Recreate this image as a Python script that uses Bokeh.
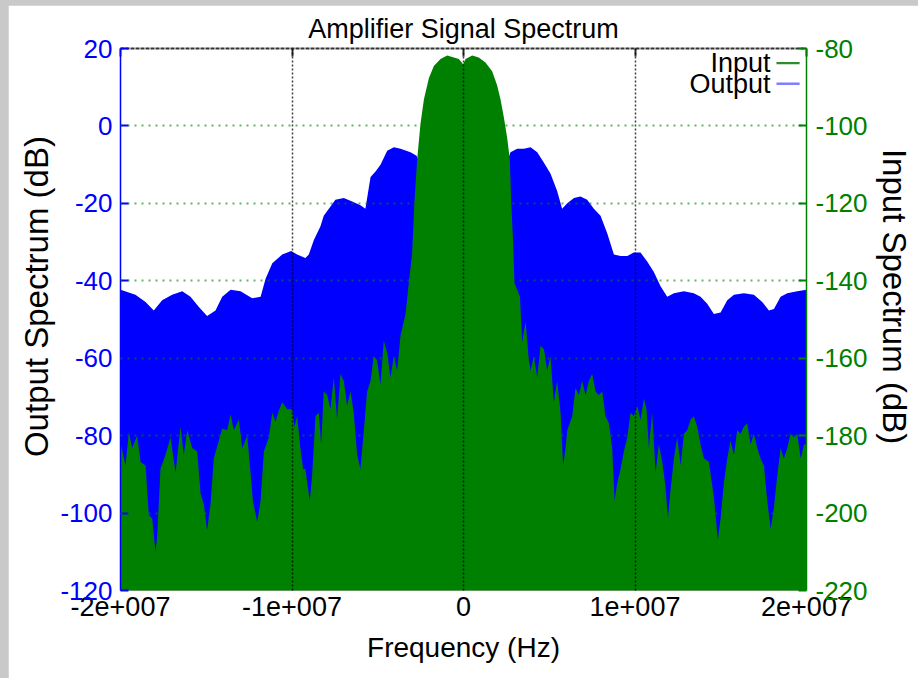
from bokeh.plotting import figure
from bokeh.models import Range1d, LinearAxis, FixedTicker, Label, BoxAnnotation
from bokeh.layouts import column
from bokeh.embed import file_html
from bokeh.resources import INLINE

TITLE = "Amplifier Signal Spectrum"
X_LABEL = "Frequency (Hz)"
Y_LEFT_LABEL = "Output Spectrum (dB)"
Y_RIGHT_LABEL = "Input Spectrum (dB)"
SERIES_NAMES = ["Input", "Output"]

X_TICKS = [-20000000, -10000000, 0, 10000000, 20000000]
X_TICK_LABELS = ["-2e+007", "-1e+007", "0", "1e+007", "2e+007"]
LEFT_TICKS = [20, 0, -20, -40, -60, -80, -100, -120]
LEFT_TICK_LABELS = ["20", "0", "-20", "-40", "-60", "-80", "-100", "-120"]
RIGHT_TICKS = [-80, -100, -120, -140, -160, -180, -200, -220]
RIGHT_TICK_LABELS = ["-80", "-100", "-120", "-140", "-160", "-180", "-200", "-220"]

# Output spectrum (blue, left axis) upper envelope: frequency (Hz), level (dB)
output_freq = [
    -20.00e6, -19.13e6, -18.54e6, -18.06e6, -17.57e6, -16.99e6, -16.40e6, -15.92e6,
    -15.43e6, -14.95e6, -14.46e6, -14.07e6, -13.58e6, -13.00e6, -12.32e6, -11.83e6,
    -11.54e6, -11.15e6, -10.57e6, -10.05e6, -9.70e6, -9.22e6, -9.02e6, -8.73e6,
    -8.34e6, -8.15e6, -7.85e6, -7.47e6, -6.98e6, -6.49e6, -6.01e6, -5.72e6,
    -5.42e6, -5.13e6, -4.84e6, -4.45e6, -4.06e6, -3.67e6, -3.09e6, -2.74e6,
    -2.50e6, -2.00e6, 0.0, 2.00e6, 2.50e6,
    2.74e6, 3.13e6, 3.52e6, 3.91e6, 4.30e6, 4.69e6, 5.07e6, 5.46e6,
    5.75e6, 6.05e6, 6.44e6, 6.82e6, 7.21e6, 7.60e6, 7.99e6, 8.38e6,
    8.77e6, 9.16e6, 9.55e6, 9.93e6, 10.32e6, 10.71e6, 11.10e6, 11.49e6,
    11.88e6, 12.27e6, 12.85e6, 13.43e6, 13.82e6, 14.21e6, 14.60e6, 14.99e6,
    15.38e6, 15.77e6, 16.35e6, 16.93e6, 17.42e6, 17.81e6, 18.10e6, 18.49e6,
    18.88e6, 19.46e6, 20.00e6,
]
output_db = [
    -42.3, -43.6, -45.5, -47.7, -45.0, -43.6, -42.7, -44.1,
    -46.8, -49.1, -47.7, -44.1, -42.3, -42.7, -44.5, -44.1,
    -39.5, -35.5, -33.2, -32.3, -33.2, -34.1, -33.2, -29.5,
    -25.9, -23.2, -21.4, -19.1, -18.6, -19.5, -20.5, -21.4,
    -13.2, -11.8, -10.0, -6.4, -5.5, -5.9, -6.8, -7.7,
    -10.0, 0.0, 10.0, 0.0, -10.0,
    -6.8, -5.9, -5.9, -5.5, -6.8, -9.5, -12.3, -16.8,
    -21.4, -20.0, -18.6, -18.2, -19.1, -21.4, -23.2, -27.7,
    -33.2, -33.6, -33.6, -32.7, -32.7, -35.0, -37.7, -41.4,
    -44.1, -43.2, -42.7, -43.2, -44.1, -45.9, -48.6, -48.2,
    -45.0, -43.6, -43.2, -43.6, -45.5, -47.7, -47.3, -44.1,
    -43.2, -42.7, -42.3,
]

# Input spectrum (green, right axis) upper envelope: frequency (Hz), level (dB)
input_freq = [
    -20.00e6, -19.71e6, -19.51e6, -19.32e6, -19.03e6, -18.83e6, -18.54e6, -18.35e6,
    -18.15e6, -17.96e6, -17.86e6, -17.67e6, -17.38e6, -17.08e6, -16.79e6, -16.50e6,
    -16.31e6, -16.11e6, -15.82e6, -15.53e6, -15.33e6, -15.14e6, -14.95e6, -14.75e6,
    -14.56e6, -14.27e6, -14.07e6, -13.78e6, -13.58e6, -13.39e6, -13.10e6, -12.90e6,
    -12.61e6, -12.42e6, -12.28e6, -12.03e6, -11.83e6, -11.64e6, -11.35e6, -11.15e6,
    -10.96e6, -10.77e6, -10.57e6, -10.28e6, -9.99e6, -9.86e6, -9.70e6, -9.51e6,
    -9.35e6, -9.22e6, -9.08e6, -8.96e6, -8.83e6, -8.63e6, -8.44e6, -8.30e6,
    -8.15e6, -7.95e6, -7.76e6, -7.56e6, -7.37e6, -7.17e6, -6.98e6, -6.79e6,
    -6.59e6, -6.40e6, -6.20e6, -6.01e6, -5.81e6, -5.62e6, -5.42e6, -5.23e6,
    -5.04e6, -4.84e6, -4.65e6, -4.45e6, -4.26e6, -4.06e6, -3.87e6, -3.67e6,
    -3.48e6, -3.38e6, -3.19e6, -3.00e6, -2.86e6, -2.70e6, -2.51e6, -2.31e6,
    -2.02e6, -1.73e6, -1.34e6, -0.95e6, -0.56e6, -0.27e6, -0.02e6, 0.12e6,
    0.51e6, 0.89e6, 1.28e6, 1.67e6, 1.96e6, 2.16e6, 2.35e6, 2.55e6,
    2.70e6, 2.78e6, 2.88e6, 2.97e6, 3.13e6, 3.29e6, 3.42e6, 3.62e6,
    3.81e6, 3.91e6, 4.10e6, 4.30e6, 4.49e6, 4.69e6, 4.88e6, 5.07e6,
    5.27e6, 5.46e6, 5.66e6, 5.81e6, 5.95e6, 6.05e6, 6.34e6, 6.53e6,
    6.73e6, 6.92e6, 7.12e6, 7.31e6, 7.50e6, 7.70e6, 7.89e6, 8.09e6,
    8.28e6, 8.48e6, 8.67e6, 8.81e6, 8.96e6, 9.16e6, 9.35e6, 9.55e6,
    9.74e6, 9.93e6, 10.13e6, 10.32e6, 10.52e6, 10.67e6, 10.81e6, 11.00e6,
    11.20e6, 11.39e6, 11.59e6, 11.78e6, 11.92e6, 12.07e6, 12.27e6, 12.46e6,
    12.66e6, 12.85e6, 13.04e6, 13.24e6, 13.43e6, 13.63e6, 13.82e6, 14.02e6,
    14.31e6, 14.60e6, 14.83e6, 14.99e6, 15.18e6, 15.38e6, 15.57e6, 15.77e6,
    15.96e6, 16.15e6, 16.35e6, 16.54e6, 16.74e6, 16.93e6, 17.13e6, 17.32e6,
    17.52e6, 17.71e6, 17.91e6, 18.10e6, 18.29e6, 18.49e6, 18.68e6, 18.88e6,
    19.07e6, 19.27e6, 19.46e6, 19.66e6, 19.85e6, 20.00e6,
]
input_db = [
    -181.8, -187.7, -179.1, -183.2, -180.0, -186.8, -187.7, -200.5,
    -201.4, -210.0, -205.9, -188.6, -185.0, -180.5, -189.5, -177.7,
    -185.0, -178.6, -183.2, -184.1, -195.0, -197.7, -204.5, -197.7,
    -185.9, -181.4, -178.2, -178.6, -174.5, -178.6, -175.9, -183.2,
    -180.0, -189.5, -196.8, -202.3, -196.8, -184.1, -180.5, -174.1,
    -176.4, -173.6, -171.4, -173.2, -173.2, -177.7, -175.0, -183.2,
    -188.6, -188.6, -193.2, -196.8, -190.5, -175.0, -174.1, -182.3,
    -168.6, -169.5, -173.2, -165.0, -175.9, -164.1, -165.9, -172.3,
    -168.6, -174.1, -185.0, -188.6, -178.6, -168.6, -165.9, -159.5,
    -160.5, -166.8, -155.5, -158.6, -165.0, -159.5, -163.2, -154.1,
    -150.5, -148.6, -140.5, -133.2, -119.5, -108.6, -99.5, -93.2,
    -87.7, -84.5, -82.7, -81.8, -82.3, -82.7, -84.1, -82.7,
    -81.8, -82.3, -83.6, -85.9, -89.5, -93.2, -97.7, -103.2,
    -108.6, -119.5, -128.6, -140.5, -142.3, -144.1, -155.9, -150.5,
    -160.5, -163.2, -159.5, -165.0, -156.8, -157.7, -163.2, -159.5,
    -171.4, -165.9, -174.1, -187.7, -183.2, -178.6, -175.0, -167.7,
    -169.5, -165.9, -169.5, -165.9, -164.1, -168.6, -169.5, -168.6,
    -175.0, -176.8, -183.2, -196.8, -192.3, -188.6, -184.1, -180.5,
    -174.1, -175.0, -172.3, -175.9, -170.5, -173.2, -183.2, -174.1,
    -189.5, -182.3, -186.8, -193.2, -201.4, -194.1, -185.9, -180.5,
    -187.7, -179.5, -178.6, -175.9, -175.0, -177.7, -182.3, -185.9,
    -186.8, -195.9, -206.8, -201.4, -192.3, -185.9, -181.4, -185.0,
    -178.6, -179.5, -177.7, -176.8, -182.3, -179.5, -183.2, -185.9,
    -187.7, -196.8, -204.1, -198.6, -190.5, -183.2, -185.9, -183.2,
    -179.5, -180.5, -179.5, -185.9, -182.3, -182.3,
]

BLUE = "#0000ff"
GREEN = "#008000"
FONT = "'Liberation Sans', Arial, sans-serif"
PAD = "\u00a0" * 5  # lifts the rotated axis titles slightly above the frame centre

p = figure(
    width=910, height=673,
    x_range=Range1d(X_TICKS[0], X_TICKS[-1]),
    y_range=Range1d(LEFT_TICKS[-1], LEFT_TICKS[0]),
    output_backend="svg", toolbar_location=None,
    min_border_left=112, min_border_right=112, min_border_top=43, min_border_bottom=88,
    background_fill_color="white", border_fill_color="white",
)
p.margin = (5, 0, 0, 8)
p.outline_line_color = None
p.extra_y_ranges = {"right": Range1d(RIGHT_TICKS[-1], RIGHT_TICKS[0])}

# fills
p.varea(x=output_freq, y1=LEFT_TICKS[-1], y2=output_db, fill_color=BLUE)
p.varea(x=input_freq, y1=RIGHT_TICKS[-1], y2=input_db, fill_color=GREEN, y_range_name="right")

# title
p.title.text = TITLE
p.title.align = "center"
p.title.vertical_align = "bottom"
p.title.text_font = FONT
p.title.text_font_size = "27px"
p.title.text_font_style = "normal"
p.title.text_color = "black"
p.title.standoff = 10

# bottom axis
xa = p.xaxis[0]
xa.ticker = FixedTicker(ticks=X_TICKS)
xa.major_label_overrides = dict(zip(X_TICKS, X_TICK_LABELS))
xa.major_label_text_font = FONT
xa.major_label_text_font_size = "27px"
xa.major_label_text_color = "black"
xa.major_label_standoff = 6
xa.major_tick_in = 0
xa.major_tick_out = 0
xa.minor_tick_line_color = None
xa.axis_line_color = "#5c9a5c"
xa.axis_label = X_LABEL
xa.axis_label_text_font = FONT
xa.axis_label_text_font_size = "28px"
xa.axis_label_text_font_style = "normal"
xa.axis_label_text_color = "black"
xa.axis_label_standoff = 13

# left axis
ya = p.yaxis[0]
ya.ticker = FixedTicker(ticks=LEFT_TICKS)
ya.major_label_overrides = dict(zip(LEFT_TICKS, LEFT_TICK_LABELS))
ya.major_label_text_font = FONT
ya.major_label_text_font_size = "26px"
ya.major_label_text_color = BLUE
ya.major_label_standoff = 8
ya.major_tick_in = 8
ya.major_tick_out = 0
ya.major_tick_line_color = BLUE
ya.major_tick_line_width = 2
ya.minor_tick_line_color = None
ya.axis_line_color = BLUE
ya.axis_line_width = 1.5
ya.axis_label = PAD + Y_LEFT_LABEL
ya.axis_label_text_font = FONT
ya.axis_label_text_font_size = "33px"
ya.axis_label_text_font_style = "normal"
ya.axis_label_text_color = "black"
ya.axis_label_standoff = 2

# right axis
yr = LinearAxis(y_range_name="right", ticker=FixedTicker(ticks=RIGHT_TICKS))
yr.major_label_overrides = dict(zip(RIGHT_TICKS, RIGHT_TICK_LABELS))
yr.major_label_text_font = FONT
yr.major_label_text_font_size = "26px"
yr.major_label_text_color = GREEN
yr.major_label_standoff = 9
yr.major_tick_in = 8
yr.major_tick_out = 0
yr.major_tick_line_color = GREEN
yr.major_tick_line_width = 2
yr.minor_tick_line_color = None
yr.axis_line_color = GREEN
yr.axis_line_width = 1.5
yr.axis_label = Y_RIGHT_LABEL + PAD
yr.axis_label_text_font = FONT
yr.axis_label_text_font_size = "33px"
yr.axis_label_text_font_style = "normal"
yr.axis_label_text_color = "black"
yr.axis_label_standoff = 5
p.add_layout(yr, "right")

# top axis (frame edge with inward ticks)
xt = LinearAxis(ticker=FixedTicker(ticks=X_TICKS))
xt.major_label_text_font_size = "1px"
xt.major_label_text_color = None
xt.major_label_standoff = 0
xt.major_tick_in = 8
xt.major_tick_out = 0
xt.major_tick_line_color = "#333333"
xt.major_tick_line_width = 2
xt.minor_tick_line_color = None
xt.axis_line_color = "#333333"
xt.axis_line_width = 2
xt.axis_line_dash = "4 1"
p.add_layout(xt, "above")

# grids drawn over the fills
p.xgrid.ticker = FixedTicker(ticks=X_TICKS)
p.xgrid.grid_line_color = "black"
p.xgrid.grid_line_dash = "2 2"
p.xgrid.grid_line_width = 1.5
p.xgrid.grid_line_alpha = 0.75
p.xgrid.level = "overlay"
p.ygrid.ticker = FixedTicker(ticks=LEFT_TICKS)
p.ygrid.grid_line_color = GREEN
p.ygrid.grid_line_dash = "2 5"
p.ygrid.grid_line_width = 2
p.ygrid.grid_line_alpha = 0.6
p.ygrid.level = "overlay"

# legend (text with line sample on its right, as in the original)
LEG_TEXT_X = 17.9e6
LEG_LINE = (18.25e6, 19.6e6)
LEG_Y = [16.2, 10.9]
LEG_COLORS = ["#2e8b2e", "#7f7fff"]
for name, yy, col in zip(SERIES_NAMES, LEG_Y, LEG_COLORS):
    p.add_layout(Label(x=LEG_TEXT_X, y=yy, text=name, text_align="right",
                       text_baseline="middle", text_font=FONT,
                       text_font_size="27px", text_color="black"))
    p.add_layout(BoxAnnotation(left=LEG_LINE[0], right=LEG_LINE[1],
                               bottom=yy - 0.3, top=yy + 0.3,
                               fill_color=col, fill_alpha=1.0, line_color=None))

root = column(p, styles={"background-color": "#c9c9c9"}, width=918, height=678)

with open("out.html", "w") as f:
    f.write(file_html(root, INLINE))
